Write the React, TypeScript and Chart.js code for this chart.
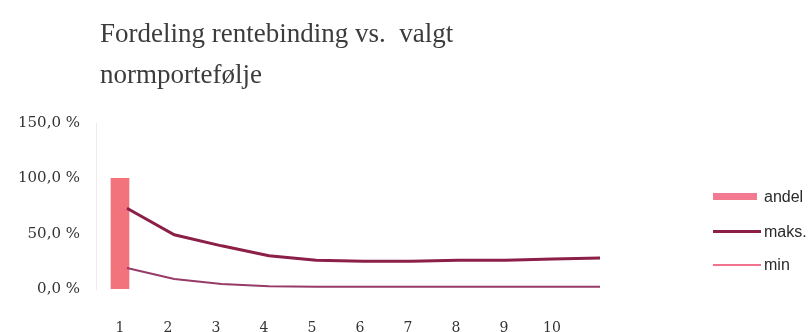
import React, { useEffect, useRef } from "react";
import { Chart, registerables } from "chart.js";

Chart.register(...registerables);

const categories = ["1", "2", "3", "4", "5", "6", "7", "8", "9", "10", ""];
const andelValues = [100, null, null, null, null, null, null, null, null, null, null];
const lineYears = [1, 2, 3, 4, 5, 6, 7, 8, 9, 10, 11];
const maksValues = [73, 49, 39, 30, 26, 25, 25, 26, 26, 27, 28];
const minValues = [19, 9, 4.5, 2.5, 2, 2, 2, 2, 2, 2, 2];
const yTicks = [0, 50, 100, 150];
const titleLines = ["Fordeling rentebinding vs.  valgt", "normportefølje"];
const legendLabels = ["andel", "maks.", "min"];

const BAR_COLOR = "#f2737c";
const MAKS_COLOR = "#8b1f47";
const MIN_COLOR = "#973a68";
const MIN_LEGEND = "#f0728c";
const ANDEL_LEGEND = "#f47a92";

export default function App() {
  const ref = useRef<HTMLCanvasElement | null>(null);

  useEffect(() => {
    if (!ref.current) return;
    const chart = new Chart(ref.current, {
      type: "bar",
      data: {
        labels: categories,
        datasets: [
          {
            type: "bar",
            label: legendLabels[0],
            data: andelValues as any,
            backgroundColor: BAR_COLOR,
            barThickness: 18,
            grouped: false,
            xAxisID: "x",
            order: 2,
          },
          {
            type: "line",
            label: legendLabels[1],
            data: lineYears.map((x, i) => ({ x, y: maksValues[i] })) as any,
            borderColor: MAKS_COLOR,
            borderWidth: 3,
            pointRadius: 0,
            tension: 0,
            xAxisID: "x2",
            order: 1,
          },
          {
            type: "line",
            label: legendLabels[2],
            data: lineYears.map((x, i) => ({ x, y: minValues[i] })) as any,
            borderColor: MIN_COLOR,
            borderWidth: 2,
            pointRadius: 0,
            tension: 0,
            xAxisID: "x2",
            order: 1,
          },
        ],
      },
      options: {
        responsive: false,
        animation: false,
        devicePixelRatio: 1,
        layout: { padding: { top: 123, right: 185, left: 0, bottom: 0 } },
        plugins: {
          legend: { display: false },
          tooltip: { enabled: false },
          title: { display: false },
        },
        scales: {
          x: {
            type: "category",
            position: "bottom",
            offset: true,
            grid: { display: false, drawTicks: false },
            border: { display: false },
            ticks: {
              padding: 31,
              color: "#333",
              font: { family: "DejaVu Serif", size: 14 },
              autoSkip: false,
              maxRotation: 0,
            },
            afterFit: (s: any) => {
              s.height = 43;
            },
          },
          x2: {
            type: "linear",
            position: "bottom",
            display: true,
            min: 0.345,
            max: 11.507,
            offset: false,
            grid: { display: false, drawTicks: false },
            border: { display: false },
            ticks: { display: false },
            afterFit: (s: any) => {
              s.height = 0;
            },
          },
          y: {
            min: 0,
            max: 150,
            afterBuildTicks: (s: any) => {
              s.ticks = yTicks.map((v) => ({ value: v }));
            },
            grid: { display: false, drawTicks: false },
            border: { display: true, color: "#ececec", width: 1 },
            ticks: {
              padding: 16,
              color: "#333",
              font: { family: "DejaVu Serif", size: 15 },
              callback: (v: any) => Number(v).toFixed(1).replace(".", ",") + " %",
            },
            afterFit: (s: any) => {
              s.width = 96;
            },
          },
        },
      },
    });
    return () => chart.destroy();
  }, []);

  const legendText: React.CSSProperties = {
    position: "absolute",
    left: 764,
    fontFamily: "Liberation Sans",
    fontSize: 16,
    color: "#2a2a2a",
    lineHeight: "16px",
    whiteSpace: "nowrap",
  };

  return (
    <div
      style={{
        position: "absolute",
        left: 0,
        top: 0,
        width: 809,
        height: 332,
        overflow: "hidden",
        background: "#fff",
      }}
    >
      <canvas ref={ref} width={809} height={332} style={{ position: "absolute", left: 0, top: 0 }} />
      <div
        style={{
          position: "absolute",
          left: 100,
          top: 13,
          fontFamily: "Liberation Serif",
          fontSize: 27,
          lineHeight: "41px",
          color: "#3c3c3c",
          whiteSpace: "pre",
        }}
      >
        {titleLines.map((t, i) => (
          <div key={i}>{t}</div>
        ))}
      </div>
      <div style={{ position: "absolute", left: 713, top: 193, width: 44, height: 7, background: ANDEL_LEGEND }} />
      <div style={{ ...legendText, top: 189 }}>{legendLabels[0]}</div>
      <div style={{ position: "absolute", left: 713, top: 230, width: 48, height: 3, background: MAKS_COLOR }} />
      <div style={{ ...legendText, top: 224 }}>{legendLabels[1]}</div>
      <div style={{ position: "absolute", left: 713, top: 264, width: 48, height: 2, background: MIN_LEGEND }} />
      <div style={{ ...legendText, top: 257 }}>{legendLabels[2]}</div>
    </div>
  );
}
